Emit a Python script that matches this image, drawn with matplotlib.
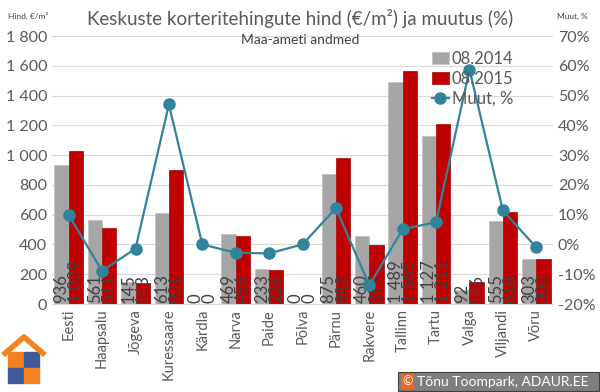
import matplotlib.pyplot as plt
import matplotlib.patches as mpatches
import numpy as np

plt.rcParams['font.family'] = ['Lato', 'DejaVu Sans']

cities = ["Eesti", "Haapsalu", "Jõgeva", "Kuressaare", "Kärdla", "Narva", "Paide", "Põlva",
          "Pärnu", "Rakvere", "Tallinn", "Tartu", "Valga", "Viljandi", "Võru"]
price_2014 = [936, 561, 145, 613, 0, 469, 233, 0, 875, 460, 1489, 1127, 92, 555, 303]
price_2015 = [1029, 511, 143, 901, 0, 456, 226, 0, 982, 397, 1565, 1211, 146, 618, 300]
change_pct = [9.9, -8.9, -1.4, 47.0, 0.0, -2.8, -3.0, 0.0, 12.2, -13.7, 5.1, 7.5, 58.7, 11.4, -1.0]

GRAY = "#A6A6A6"
RED = "#C00000"
TEAL = "#31849B"
TXT = "#595959"


def fmt(v):
    return f"{v:,}".replace(",", " ")


fig = plt.figure(figsize=(6, 3.92), dpi=100)
ax = fig.add_axes([52 / 600, 1 - 304 / 392, 501 / 600, 268 / 392])
ax2 = ax.twinx()

x = np.arange(len(cities))
w = 0.43
b1 = ax.bar(x - w / 2, price_2014, w, color=GRAY, edgecolor="#BFBFBF", linewidth=0.5, label="08.2014", zorder=2)
b2 = ax.bar(x + w / 2, price_2015, w, color=RED, edgecolor="#A00000", linewidth=0.5, label="08.2015", zorder=2)

# data labels at the foot of every bar
for bars, vals in ((b1, price_2014), (b2, price_2015)):
    for r, v in zip(bars, vals):
        ax.text(r.get_x() + r.get_width() / 2, 6, fmt(v), rotation=90, ha="center", va="bottom",
                fontsize=12, color="#404040", zorder=3)

ax.set_ylim(0, 1800)
ax.set_yticks(range(0, 1801, 200))
ax.set_yticklabels([fmt(v) for v in range(0, 1801, 200)])
ax.set_xlim(-0.5, len(cities) - 0.5)
ax.set_xticks(x)
ax.set_xticklabels(cities, rotation=90, color=TXT)
ax.grid(axis="y", color="#D9D9D9", linewidth=0.8, zorder=0)
ax.set_axisbelow(True)
ax.tick_params(axis="both", length=0, labelsize=11.5, colors=TXT)
ax.tick_params(axis="x", labelsize=10.5)
for s in ax.spines.values():
    s.set_visible(False)
ax.spines["bottom"].set_visible(True)
ax.spines["bottom"].set_color("#D9D9D9")

ax2.plot(x, change_pct, color=TEAL, linewidth=1.6, marker="o", markersize=8, label="Muut, %", zorder=4)
ax2.set_ylim(-20, 70)
ax2.set_yticks(range(-20, 71, 10))
ax2.set_yticklabels([f"{v}%" for v in range(-20, 71, 10)])
ax2.tick_params(axis="y", length=0, labelsize=11.5, colors=TXT)
for s in ax2.spines.values():
    s.set_visible(False)

h1, l1 = ax.get_legend_handles_labels()
h2, l2 = ax2.get_legend_handles_labels()
ax2.legend(h1 + h2, l1 + l2, loc="upper left", bbox_to_anchor=(0.745, 0.97), frameon=False,
           fontsize=12, labelcolor=TXT, handlelength=1.0, handletextpad=0.2, labelspacing=0.25,
           borderaxespad=0)

fig.text(0.5, 1 - 19 / 392, "Keskuste korteritehingute hind (€/m²) ja muutus (%)", ha="center", va="center",
         fontsize=13.5, color=TXT)
fig.text(0.5, 1 - 40 / 392, "Maa-ameti andmed", ha="center", va="center", fontsize=10, color="#404040")
fig.text(8 / 600, 1 - 16 / 392, "Hind, €/m²", ha="left", va="center", fontsize=6, color="#404040")
fig.text(557 / 600, 1 - 16 / 392, "Muut, %", ha="left", va="center", fontsize=6, color="#404040")

# logo: roof and puzzle pieces
roof = plt.Line2D([3 / 600, 24 / 600, 45 / 600], [1 - 355 / 392, 1 - 337 / 392, 1 - 355 / 392],
                  transform=fig.transFigure, color="#F58220", linewidth=4, solid_capstyle="butt")
fig.add_artist(roof)
for (px, py, c) in [(8, 352, "#F58220"), (24, 352, "#3F5A9A"), (8, 368, "#3F5A9A"), (24, 368, "#F58220")]:
    fig.add_artist(mpatches.Rectangle((px / 600, 1 - (py + 15) / 392), 15 / 600, 15 / 392,
                                      transform=fig.transFigure, color=c))

# copyright box
fig.add_artist(mpatches.Rectangle((398 / 600, 1 - 391 / 392), 201 / 600, 19 / 392, transform=fig.transFigure,
                                  facecolor="#7F7F7F", edgecolor="#404040", linewidth=0.8))
fig.add_artist(mpatches.Rectangle((401 / 600, 1 - 389 / 392), 13 / 600, 15 / 392, transform=fig.transFigure,
                                  facecolor="#F26522", edgecolor="none"))
fig.text(407.5 / 600, 1 - 381.5 / 392, "©", ha="center", va="center", fontsize=9, color="white")
fig.text(417 / 600, 1 - 381.5 / 392, "Tõnu Toompark, ADAUR.EE", ha="left", va="center", fontsize=10,
         color="white")

fig.savefig("out.png", dpi=100)
